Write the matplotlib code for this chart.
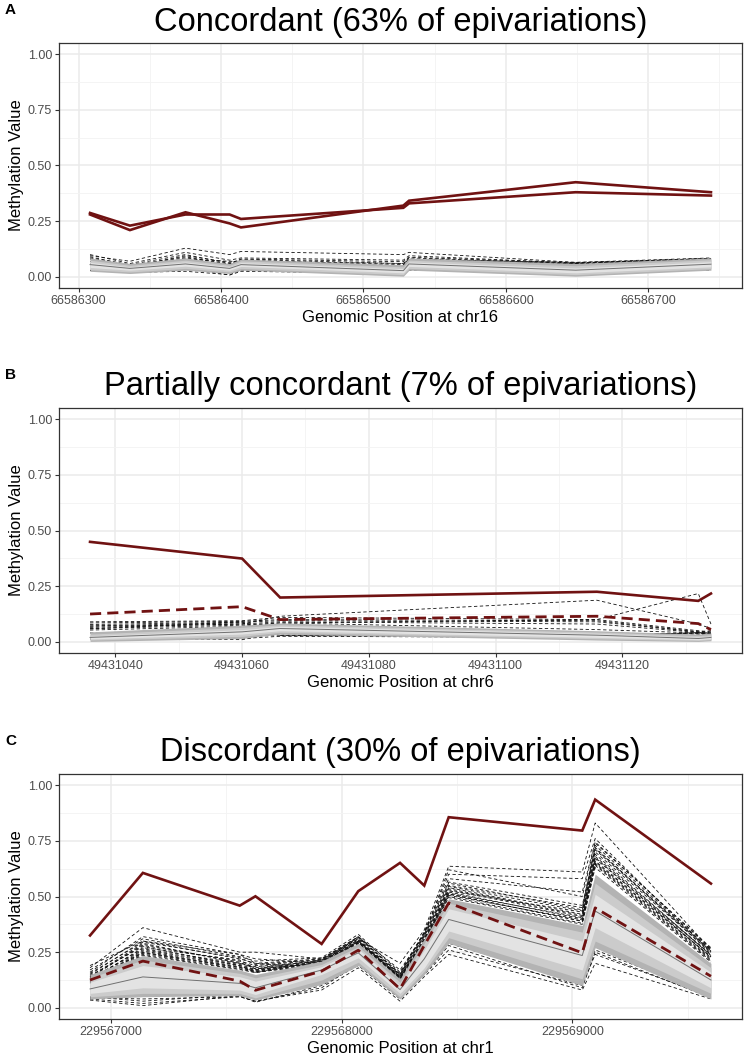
import numpy as np
import matplotlib
matplotlib.use("Agg")
import matplotlib.pyplot as plt
from matplotlib.ticker import FuncFormatter, MultipleLocator

plt.rcParams['font.family'] = ['Liberation Sans', 'DejaVu Sans']

# ---------------- panel A: chr16 ----------------
a_pos = [66586308, 66586336, 66586375, 66586406, 66586414, 66586528, 66586532, 66586649, 66586744]
a_case = [
    [0.287, 0.230, 0.280, 0.280, 0.260, 0.310, 0.330, 0.380, 0.365],
    [0.280, 0.210, 0.290, 0.240, 0.222, 0.320, 0.342, 0.425, 0.380],
]
a_case_dash = []
a_median = [0.055, 0.038, 0.058, 0.038, 0.055, 0.028, 0.058, 0.030, 0.057]
a_outer_lo = [0.025, 0.015, 0.030, 0.015, 0.030, 0.003, 0.030, 0.003, 0.030]
a_outer_hi = [0.085, 0.060, 0.085, 0.060, 0.080, 0.055, 0.085, 0.060, 0.085]
a_mid_lo = [0.032, 0.022, 0.038, 0.022, 0.038, 0.010, 0.038, 0.010, 0.037]
a_mid_hi = [0.075, 0.052, 0.075, 0.052, 0.072, 0.045, 0.075, 0.050, 0.077]
a_inner_lo = [0.042, 0.030, 0.048, 0.030, 0.047, 0.018, 0.047, 0.018, 0.045]
a_inner_hi = [0.065, 0.045, 0.067, 0.045, 0.064, 0.037, 0.067, 0.040, 0.068]
a_controls = [
    [0.095, 0.070, 0.129, 0.100, 0.114, 0.100, 0.110, 0.065, 0.075],
    [0.100, 0.060, 0.110, 0.075, 0.085, 0.075, 0.095, 0.062, 0.082],
    [0.085, 0.055, 0.100, 0.060, 0.078, 0.060, 0.085, 0.060, 0.080],
    [0.080, 0.050, 0.090, 0.055, 0.075, 0.050, 0.080, 0.058, 0.078],
    [0.030, 0.020, 0.025, 0.010, 0.030, 0.010, 0.030, 0.020, 0.030],
    [0.060, 0.040, 0.080, 0.070, 0.070, 0.060, 0.078, 0.065, 0.085],
    [0.070, 0.045, 0.095, 0.065, 0.072, 0.055, 0.075, 0.060, 0.080],
    [0.028, 0.022, 0.040, 0.008, 0.025, 0.015, 0.035, 0.010, 0.035],
    [0.090, 0.052, 0.085, 0.058, 0.080, 0.068, 0.088, 0.063, 0.083],
]

# ---------------- panel B: chr6 ----------------
b_pos = [49431036, 49431060, 49431066, 49431116, 49431132, 49431134]
b_case = [[0.449, 0.374, 0.199, 0.225, 0.184, 0.217]]
b_case_dash = [[0.125, 0.158, 0.100, 0.115, 0.082, 0.055]]
b_median = [0.020, 0.045, 0.060, 0.030, 0.015, 0.020]
b_outer_lo = [0.002, 0.015, 0.035, 0.008, 0.002, 0.005]
b_outer_hi = [0.045, 0.075, 0.085, 0.050, 0.035, 0.040]
b_mid_lo = [0.008, 0.025, 0.043, 0.014, 0.006, 0.010]
b_mid_hi = [0.035, 0.065, 0.077, 0.044, 0.028, 0.032]
b_inner_lo = [0.013, 0.035, 0.050, 0.020, 0.010, 0.014]
b_inner_hi = [0.027, 0.055, 0.070, 0.038, 0.022, 0.026]
b_controls = [
    [0.090, 0.095, 0.110, 0.100, 0.050, 0.045],
    [0.078, 0.088, 0.095, 0.090, 0.045, 0.040],
    [0.065, 0.080, 0.090, 0.080, 0.042, 0.038],
    [0.053, 0.070, 0.085, 0.055, 0.040, 0.035],
    [0.015, 0.010, 0.040, 0.040, 0.035, 0.030],
    [0.012, 0.015, 0.025, 0.020, 0.030, 0.030],
    [0.070, 0.080, 0.115, 0.187, 0.080, 0.060],
    [0.060, 0.075, 0.085, 0.100, 0.217, 0.080],
    [0.040, 0.030, 0.030, 0.030, 0.040, 0.040],
    [0.085, 0.092, 0.100, 0.095, 0.045, 0.050],
    [0.072, 0.085, 0.030, 0.035, 0.038, 0.036],
    [0.058, 0.090, 0.028, 0.025, 0.042, 0.040],
]

# ---------------- panel C: chr1 ----------------
c_pos = [229566909, 229567138, 229567558, 229567626, 229567913, 229568072,
         229568253, 229568358, 229568464, 229569043, 229569099, 229569601]
c_case = [[0.325, 0.606, 0.459, 0.501, 0.287, 0.524, 0.651, 0.549, 0.856, 0.796, 0.935, 0.558]]
c_case_dash = [[0.125, 0.210, 0.120, 0.079, 0.165, 0.259, 0.085, 0.280, 0.471, 0.247, 0.449, 0.142]]
c_median = [0.085, 0.139, 0.110, 0.090, 0.170, 0.247, 0.082, 0.220, 0.397, 0.235, 0.435, 0.125]
c_outer_lo = [0.040, 0.050, 0.055, 0.035, 0.105, 0.190, 0.040, 0.150, 0.290, 0.100, 0.270, 0.040]
c_outer_hi = [0.150, 0.235, 0.170, 0.150, 0.210, 0.290, 0.130, 0.310, 0.490, 0.370, 0.600, 0.200]
c_mid_lo = [0.050, 0.065, 0.065, 0.045, 0.125, 0.205, 0.050, 0.165, 0.315, 0.130, 0.300, 0.065]
c_mid_hi = [0.135, 0.215, 0.155, 0.135, 0.195, 0.275, 0.115, 0.290, 0.470, 0.340, 0.560, 0.180]
c_inner_lo = [0.065, 0.090, 0.080, 0.060, 0.150, 0.225, 0.065, 0.180, 0.345, 0.170, 0.360, 0.090]
c_inner_hi = [0.115, 0.190, 0.140, 0.120, 0.185, 0.265, 0.100, 0.260, 0.445, 0.300, 0.510, 0.160]
c_controls = [
    [0.150, 0.300, 0.220, 0.200, 0.220, 0.320, 0.150, 0.330, 0.560, 0.440, 0.730, 0.260],
    [0.140, 0.280, 0.210, 0.190, 0.215, 0.310, 0.145, 0.320, 0.540, 0.420, 0.700, 0.250],
    [0.130, 0.265, 0.200, 0.180, 0.210, 0.300, 0.140, 0.310, 0.530, 0.410, 0.680, 0.240],
    [0.120, 0.255, 0.190, 0.170, 0.205, 0.295, 0.135, 0.300, 0.520, 0.400, 0.660, 0.230],
    [0.115, 0.245, 0.180, 0.165, 0.200, 0.290, 0.130, 0.290, 0.510, 0.390, 0.650, 0.220],
    [0.110, 0.240, 0.175, 0.160, 0.195, 0.285, 0.125, 0.285, 0.500, 0.380, 0.640, 0.210],
    [0.140, 0.290, 0.200, 0.185, 0.210, 0.305, 0.140, 0.320, 0.550, 0.450, 0.720, 0.245],
    [0.125, 0.270, 0.215, 0.175, 0.200, 0.300, 0.135, 0.305, 0.525, 0.430, 0.690, 0.235],
    [0.135, 0.285, 0.205, 0.175, 0.215, 0.315, 0.150, 0.325, 0.545, 0.435, 0.710, 0.255],
    [0.128, 0.260, 0.195, 0.172, 0.208, 0.298, 0.142, 0.300, 0.515, 0.405, 0.670, 0.238],
    [0.118, 0.250, 0.185, 0.168, 0.203, 0.292, 0.138, 0.295, 0.505, 0.395, 0.655, 0.228],
    [0.145, 0.275, 0.190, 0.160, 0.212, 0.305, 0.132, 0.310, 0.535, 0.415, 0.675, 0.225],
    [0.112, 0.235, 0.172, 0.158, 0.198, 0.288, 0.128, 0.288, 0.495, 0.375, 0.630, 0.205],
    [0.122, 0.248, 0.182, 0.162, 0.202, 0.294, 0.133, 0.296, 0.512, 0.388, 0.645, 0.215],
    [0.170, 0.310, 0.230, 0.210, 0.225, 0.330, 0.160, 0.340, 0.580, 0.520, 0.745, 0.265],
    [0.155, 0.295, 0.225, 0.195, 0.218, 0.318, 0.155, 0.335, 0.565, 0.460, 0.715, 0.258],
    [0.180, 0.360, 0.250, 0.250, 0.220, 0.310, 0.200, 0.350, 0.636, 0.610, 0.830, 0.260],
    [0.160, 0.320, 0.240, 0.200, 0.180, 0.300, 0.150, 0.340, 0.600, 0.580, 0.760, 0.250],
    [0.190, 0.300, 0.240, 0.220, 0.200, 0.320, 0.170, 0.330, 0.620, 0.500, 0.740, 0.270],
    [0.040, 0.020, 0.050, 0.030, 0.080, 0.180, 0.030, 0.140, 0.240, 0.080, 0.200, 0.040],
    [0.035, 0.010, 0.055, 0.025, 0.100, 0.190, 0.040, 0.150, 0.260, 0.100, 0.240, 0.050],
    [0.050, 0.030, 0.060, 0.040, 0.110, 0.195, 0.050, 0.160, 0.290, 0.110, 0.260, 0.060],
    [0.045, 0.040, 0.050, 0.030, 0.090, 0.200, 0.045, 0.150, 0.280, 0.090, 0.250, 0.045],
]

titles = ["Concordant (63% of epivariations)",
          "Partially concordant (7% of epivariations)",
          "Discordant (30% of epivariations)"]
xlabels = ["Genomic Position at chr16", "Genomic Position at chr6", "Genomic Position at chr1"]
letters = ["A", "B", "C"]
x_major = [100, 20, 1000]

DARKRED = '#701212'
W, H = 747, 1063


def draw_panel(ax, pos, cases, case_dash, median, bands, controls, title, xlabel, step):
    for c in controls:
        ax.plot(pos, c, color='#111111', lw=0.6, ls=(0, (4, 3)), zorder=2)
    band_cols = ['#b3b3b3', '#cbcbcb', '#e3e3e3']
    for (lo, hi), col in zip(bands, band_cols):
        ax.fill_between(pos, lo, hi, color=col, lw=0, zorder=3)
    ax.plot(pos, median, color='#707070', lw=0.7, zorder=4)
    for c in case_dash:
        ax.plot(pos, c, color=DARKRED, lw=2.0, ls=(0, (4, 2.2)), zorder=5)
    for c in cases:
        ax.plot(pos, c, color=DARKRED, lw=1.9, zorder=6, solid_joinstyle='miter')

    span = max(pos) - min(pos)
    ax.set_xlim(min(pos) - 0.05 * span, max(pos) + 0.05 * span)
    ax.set_ylim(-0.05, 1.05)
    ax.set_yticks([0, 0.25, 0.5, 0.75, 1.0])
    ax.yaxis.set_major_formatter(FuncFormatter(lambda v, p: f"{v:.2f}"))
    ax.yaxis.set_minor_locator(MultipleLocator(0.125))
    ax.xaxis.set_major_locator(MultipleLocator(step))
    ax.xaxis.set_minor_locator(MultipleLocator(step / 2))
    ax.xaxis.set_major_formatter(FuncFormatter(lambda v, p: f"{int(round(v))}"))
    ax.grid(which='major', color='#ebebeb', lw=1.1, zorder=0)
    ax.grid(which='minor', color='#f3f3f3', lw=0.6, zorder=0)
    ax.set_axisbelow(True)
    for s in ax.spines.values():
        s.set_color('#333333')
        s.set_linewidth(0.9)
    ax.tick_params(which='major', length=3, width=0.8, color='#333333',
                   labelsize=9, labelcolor='#4d4d4d', pad=2)
    ax.tick_params(which='minor', length=0)
    ax.set_xlabel(xlabel, fontsize=12, labelpad=2)
    ax.set_ylabel("Methylation Value", fontsize=12, labelpad=3)
    ax.set_title(title, fontsize=23.5, pad=9)


fig = plt.figure(figsize=(W / 100, H / 100), dpi=100)
tops = [43, 408, 774]
panels = [
    (a_pos, a_case, a_case_dash, a_median,
     [(a_outer_lo, a_outer_hi), (a_mid_lo, a_mid_hi), (a_inner_lo, a_inner_hi)], a_controls),
    (b_pos, b_case, b_case_dash, b_median,
     [(b_outer_lo, b_outer_hi), (b_mid_lo, b_mid_hi), (b_inner_lo, b_inner_hi)], b_controls),
    (c_pos, c_case, c_case_dash, c_median,
     [(c_outer_lo, c_outer_hi), (c_mid_lo, c_mid_hi), (c_inner_lo, c_inner_hi)], c_controls),
]
for i, (pos, cases, cdash, med, bands, ctrl) in enumerate(panels):
    top = tops[i]
    ax = fig.add_axes([59 / W, 1 - (top + 245) / H, 683 / W, 245 / H])
    draw_panel(ax, pos, cases, cdash, med, bands, ctrl, titles[i], xlabels[i], x_major[i])
    fig.text(5 / W, 1 - (top - 33) / H, letters[i], fontsize=11, fontweight='bold', va='center')

fig.savefig("out.png", dpi=100)
